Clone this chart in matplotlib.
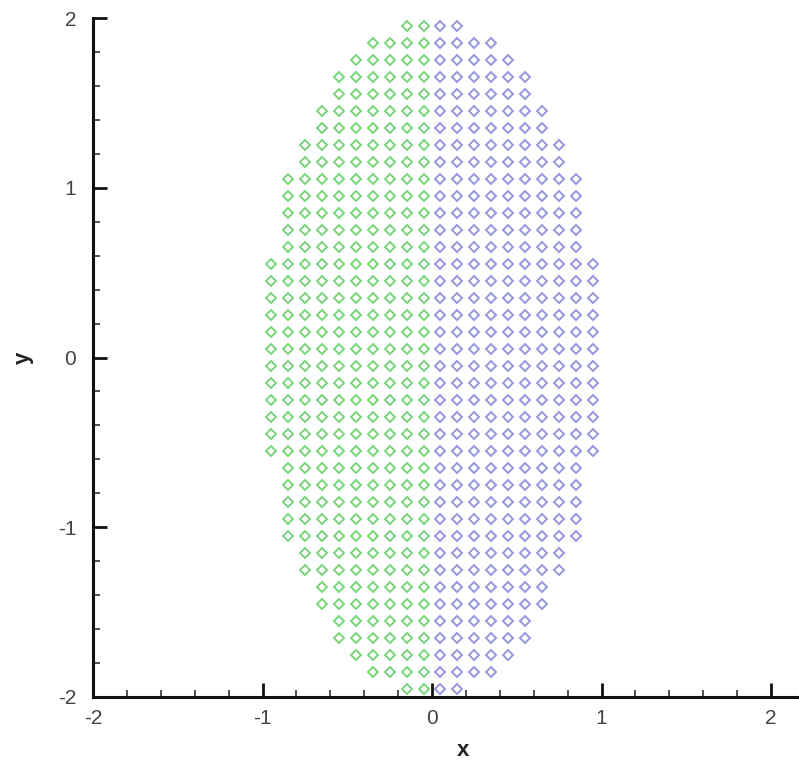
import numpy as np
import matplotlib
matplotlib.use("Agg")
from matplotlib import pyplot as plt
from matplotlib.ticker import MultipleLocator

plt.rcParams['axes.unicode_minus'] = False
plt.rcParams['font.family'] = ['Liberation Sans', 'DejaVu Sans']

# row centres (upper half, mirrored below) and number of points per side in each row
row_y = [0.05, 0.15, 0.25, 0.35, 0.45, 0.55, 0.65, 0.75, 0.85, 0.95,
         1.05, 1.15, 1.25, 1.35, 1.45, 1.55, 1.65, 1.75, 1.85, 1.95]
row_count = [10, 10, 10, 10, 10, 10, 9, 9, 9, 9,
             9, 8, 8, 7, 7, 6, 6, 5, 4, 2]
col_x = [0.05, 0.15, 0.25, 0.35, 0.45, 0.55, 0.65, 0.75, 0.85, 0.95]

green = '#7ad47a'
purple = '#9696de'

left_x, left_y, right_x, right_y = [], [], [], []
for y, n in zip(row_y, row_count):
    for sy in (y, -y):
        for x in col_x[:n]:
            left_x.append(-x)
            left_y.append(sy)
            right_x.append(x)
            right_y.append(sy)

fig = plt.figure(figsize=(7.99, 7.61), dpi=100)
ax = fig.add_axes([93 / 799, 64 / 761, 706 / 799, 679 / 761])

ax.plot(left_x, left_y, 'D', ms=5.0, mfc='none', mec=green, mew=1.4, ls='none')
ax.plot(right_x, right_y, 'D', ms=5.0, mfc='none', mec=purple, mew=1.4, ls='none')

ax.set_xlim(-2, 2.165)
ax.set_ylim(-2, 2)
ax.spines['top'].set_visible(False)
ax.spines['right'].set_visible(False)
for s in ('left', 'bottom'):
    ax.spines[s].set_linewidth(2.2)
    ax.spines[s].set_color('#111111')

ax.xaxis.set_major_locator(MultipleLocator(1))
ax.yaxis.set_major_locator(MultipleLocator(1))
ax.xaxis.set_minor_locator(MultipleLocator(0.2))
ax.yaxis.set_minor_locator(MultipleLocator(0.2))
ax.tick_params(which='major', direction='in', length=10, width=2, color='#111111',
               labelsize=15, labelcolor='#444444', pad=9)
ax.tick_params(which='minor', direction='in', length=5, width=1.2, color='#333333')
ax.tick_params(axis='y', pad=12)

ax.set_xlabel('x', fontsize=16, fontweight='bold', color='#222222')
ax.set_ylabel('y', fontsize=16, fontweight='bold', color='#222222')
ax.xaxis.set_label_coords((463 - 93) / 706, -(750 - 697) / 679, transform=ax.transAxes)
ax.yaxis.set_label_coords(-(93 - 23) / 706, 0.5, transform=ax.transAxes)
ax.xaxis.label.set_va('center')
ax.yaxis.label.set_va('center')

fig.savefig('out.png', dpi=100)
